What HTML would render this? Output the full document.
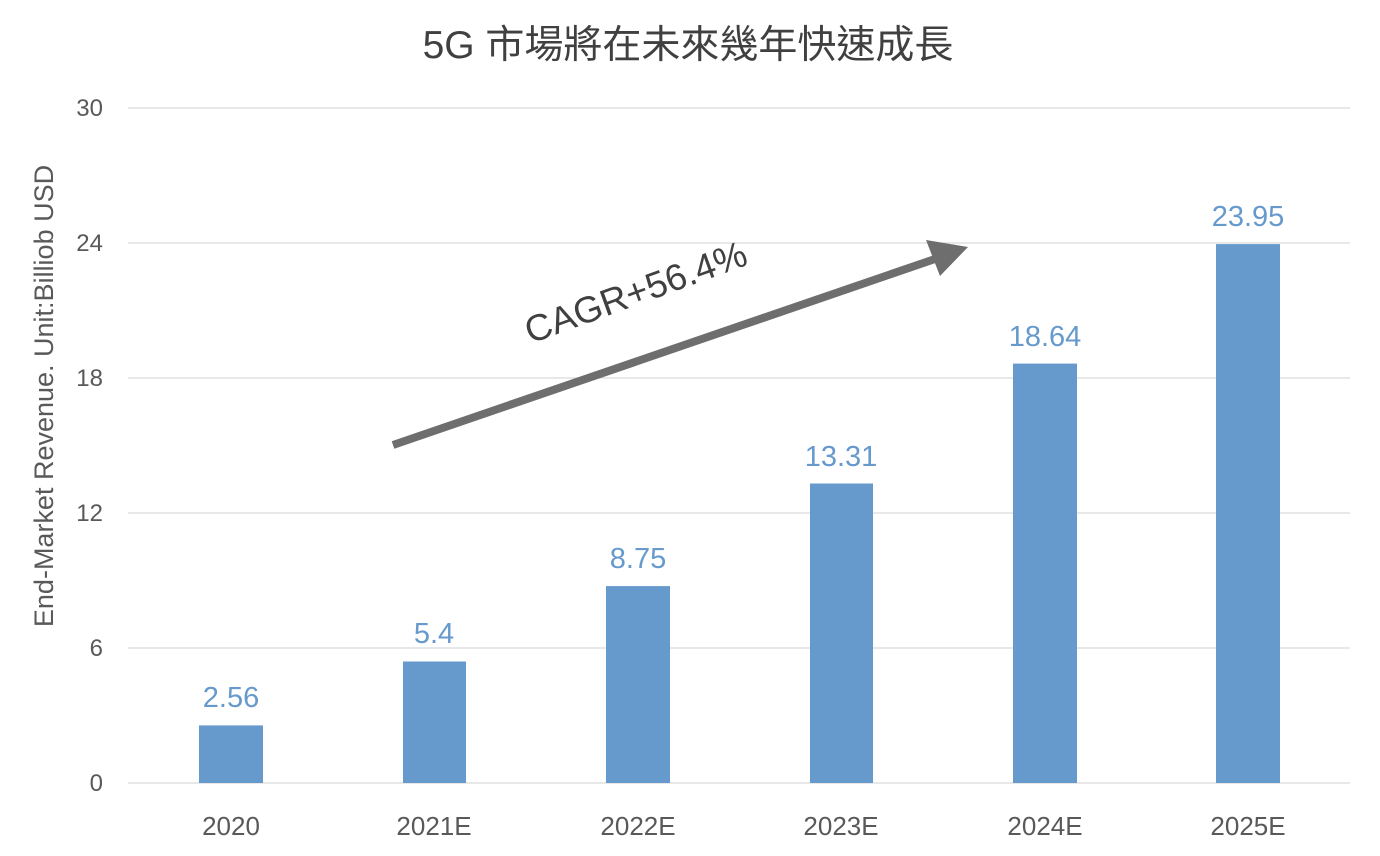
<!DOCTYPE html>
<html><head><meta charset="utf-8"><style>
html,body{margin:0;padding:0;background:#fff;}
svg{display:block;}
text{font-family:"Liberation Sans","Noto Sans CJK TC",sans-serif;}
</style></head><body>
<svg width="1380" height="856" viewBox="0 0 1380 856" xmlns="http://www.w3.org/2000/svg">
<text x="688" y="58" text-anchor="middle" font-size="39" fill="#404040">5G 市場將在未來幾年快速成長</text>
<g stroke="#d9d9d9" stroke-width="1.2">
<line x1="128" y1="108" x2="1350" y2="108"/>
<line x1="128" y1="243" x2="1350" y2="243"/>
<line x1="128" y1="378" x2="1350" y2="378"/>
<line x1="128" y1="513" x2="1350" y2="513"/>
<line x1="128" y1="648" x2="1350" y2="648"/>
<line x1="128" y1="783" x2="1350" y2="783"/>
</g>
<g font-size="24" fill="#595959" text-anchor="end">
<text x="103" y="116">30</text><text x="103" y="251">24</text><text x="103" y="386">18</text>
<text x="103" y="521">12</text><text x="103" y="656">6</text><text x="103" y="791">0</text>
</g>
<text transform="translate(53,396) rotate(-90)" text-anchor="middle" font-size="27" fill="#595959">End-Market Revenue. Unit:Billiob USD</text>
<g fill="#6699cc">
<rect x="199" y="725.4" width="64" height="57.6"/>
<rect x="403" y="661.5" width="63" height="121.5"/>
<rect x="606" y="586.1" width="64" height="196.9"/>
<rect x="810" y="483.5" width="63" height="299.5"/>
<rect x="1013" y="363.6" width="64" height="419.4"/>
<rect x="1216" y="244.1" width="64" height="538.9"/>
</g>
<g font-size="29" fill="#6699cc" text-anchor="middle">
<text x="231" y="707">2.56</text><text x="434" y="643">5.4</text><text x="638" y="568">8.75</text>
<text x="841" y="466">13.31</text><text x="1045" y="346">18.64</text><text x="1248" y="226">23.95</text>
</g>
<g font-size="26" fill="#595959" text-anchor="middle">
<text x="231" y="835">2020</text><text x="434" y="835">2021E</text><text x="638" y="835">2022E</text>
<text x="841" y="835">2023E</text><text x="1045" y="835">2024E</text><text x="1248" y="835">2025E</text>
</g>
<line x1="393" y1="445" x2="935" y2="259" stroke="#6e6e6e" stroke-width="8"/>
<polygon points="968,247 926,240 940,276" fill="#6e6e6e"/>
<text transform="translate(640,304) rotate(-20)" text-anchor="middle" font-size="37" fill="#404040">CAGR+56.4%</text>
</svg>
</body></html>
